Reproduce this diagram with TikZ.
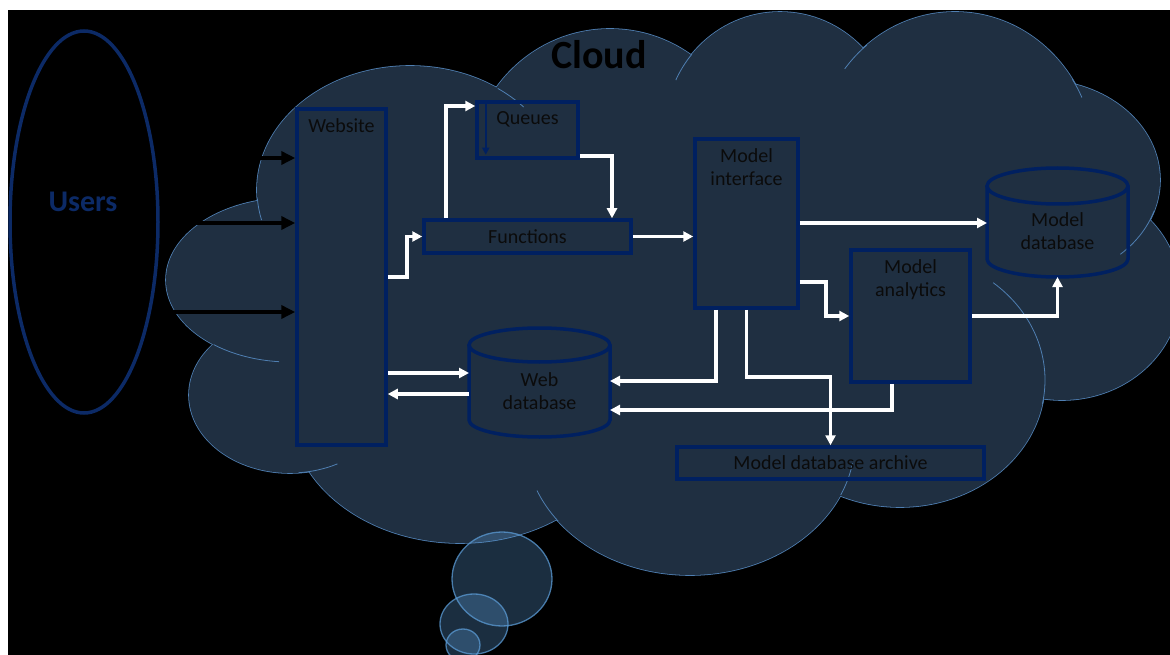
\documentclass[tikz,border=0pt]{standalone}
\usepackage{fontspec}
\setmainfont{Carlito}
\usetikzlibrary{arrows.meta,calc,shapes.geometric}

\definecolor{cloudfill}{HTML}{1F2F41}
\definecolor{cloudedge}{HTML}{4F7FB2}
\definecolor{bubble}{HTML}{5B9BD5}
\definecolor{navy}{HTML}{002060}
\definecolor{userblue}{HTML}{0C2A66}
\definecolor{ink}{HTML}{0B0B0B}

\tikzset{
  txt/.style={font=\fontsize{20}{23}\selectfont, text=ink, align=center},
  blockbox/.style={draw=navy, line width=3.5pt, inner sep=0pt, txt},
  toplbl/.style={txt, anchor=north, inner sep=0pt, yshift=-11pt},
  dbbody/.style={inner sep=0pt, outer sep=0pt, txt},
  dbline/.style={draw=navy, line width=3.5pt},
  flow/.style={draw=white, line width=3.5pt, -{Triangle[length=10pt,width=10pt]}},
  feed/.style={draw=black, line width=4pt, -{Triangle[length=14pt,width=13pt]}},
  lobeedge/.style={draw=cloudedge, line width=1.6pt},
  stub/.style={draw=cloudedge, line width=0.8pt},
  puff/.style={fill=bubble, fill opacity=0.3, draw=bubble, draw opacity=0.75, line width=1.3pt},
}

\begin{document}
\begin{tikzpicture}[x=1pt, y=-1pt]
\useasboundingbox (0,0) rectangle (1170,655);
\fill[white] (0,0) rectangle (1170,655);
\fill[black] (8,10) rectangle (1170,655);

% users
\node[draw=userblue, line width=3.5pt, ellipse, minimum width=148pt, minimum height=382pt, inner sep=0pt] (users) at (84,222) {};
\node[font=\bfseries\fontsize{30}{34}\selectfont, text=userblue] (usertitle) at (83,202) {Users};

% cloud: lobes stroked first, then filled so only the outer rim stays
\def\lobes{410/190/153/124, 610/170/140/141, 780/130/115/118, 955/160/140/148, 1040/180/120/100, 1062/292/118/108, 900/380/145/127, 690/440/165/135, 460/410/170/133, 290/395/101/78, 290/280/124/82}
\foreach \cx/\cy/\rx/\ry in \lobes {\draw[lobeedge] (\cx,\cy) ellipse [x radius=\rx, y radius=\ry];}
\foreach \cx/\cy/\rx/\ry in \lobes {\fill[cloudfill] (\cx,\cy) ellipse [x radius=\rx, y radius=\ry];}
\fill[cloudfill] (410,190) -- (610,170) -- (780,130) -- (955,160) -- (1040,180) -- (1062,292) -- (900,380) -- (690,440) -- (460,410) -- (290,395) -- (290,280) -- cycle;
% short inner arcs where lobes meet
\foreach \cx/\cy/\rx/\ry/\ta/\tb in {410/190/153/124/-55/-42, 780/130/115/118/205/220, 955/160/140/148/218/231, 955/160/140/148/-33/-25, 1040/180/120/100/18/48, 900/380/145/127/-50/11, 690/440/165/135/10/24, 690/440/165/135/143/158, 290/395/101/78/62/85, 290/280/124/82/95/128, 410/190/153/124/166/176}
  {\draw[stub] ({\cx+\rx*cos(\ta)},{\cy+\ry*sin(\ta)}) arc[start angle=\ta, end angle=\tb, x radius=\rx, y radius=\ry];}

% thought bubbles
\path[puff] (502,579) ellipse [x radius=50, y radius=47];
\path[puff] (474,624) ellipse [x radius=34, y radius=30];
\path[puff] (463,645) ellipse [x radius=17, y radius=16];

\node[font=\bfseries\fontsize{40}{44}\selectfont, text=black] (cloudtitle) at (599,55) {Cloud};

% blocks
\node[blockbox, minimum width=89pt, minimum height=336pt, label={[toplbl]north:Website}] (web) at (341.5,277) {};
\node[blockbox, minimum width=101pt, minimum height=56pt, label={[toplbl]north:Queues}] (queues) at (527.5,130) {};
\node[blockbox, minimum width=207pt, minimum height=33pt] (fun) at (527.5,236.5) {Functions};
\node[blockbox, minimum width=103pt, minimum height=169pt, label={[toplbl]north:Model\\interface}] (mi) at (746.5,223.5) {};
\node[blockbox, minimum width=119pt, minimum height=132pt, label={[toplbl]north:Model\\analytics}] (ma) at (910.5,316) {};
\node[blockbox, minimum width=307pt, minimum height=32pt] (arch) at (830.5,463) {Model database archive};

% databases
\node[dbbody, minimum width=141pt, minimum height=92pt] (wdb) at (539.5,391) {Web\\database};
\node[dbbody, minimum width=141pt, minimum height=91pt] (mdb) at (1057.5,231.5) {Model\\database};
\draw[dbline] (wdb.north west) -- ($(wdb.south west)+(0,-17)$) arc[start angle=180, end angle=0, x radius=70.5, y radius=17] -- (wdb.north east);
\draw[dbline] (wdb.north) ellipse [x radius=70.5, y radius=17];
\draw[dbline] (mdb.north west) -- ($(mdb.south west)+(0,-18)$) arc[start angle=180, end angle=0, x radius=70.5, y radius=18] -- (mdb.north east);
\draw[dbline] (mdb.north) ellipse [x radius=70.5, y radius=18];

% users to website
\draw[feed] (users.east |- 0,158) -- (web.west |- 0,158);
\draw[feed] (users.east |- 0,223) -- (web.west |- 0,223);
\draw[feed] (users.east |- 0,312) -- (web.west |- 0,312);

% queue feedback marker
\draw[navy, line width=2pt, -{Triangle[length=7pt,width=7pt]}] ([xshift=10.5pt,yshift=-3pt]queues.north west) -- ([xshift=10.5pt,yshift=5pt]queues.south west);

% data flow
\draw[flow] (web.east |- 0,277) -- ++(19,0) |- (fun.west);
\draw[flow] (fun.north -| 446,0) |- (queues.west |- 0,106);
\draw[flow] (queues.east |- 0,156) -| (fun.north -| 612,0);
\draw[flow] (fun.east) -- (mi.west |- fun.east);
\draw[flow] (mi.east |- 0,223) -- (mdb.west |- 0,223);
\draw[flow] (mi.east |- 0,282) -- ++(26,0) |- (ma.west);
\draw[flow] (ma.east) -| (mdb.south);
\draw[flow] (web.east |- 0,373) -- (wdb.west |- 0,373);
\draw[flow] (wdb.west |- 0,394) -- (web.east |- 0,394);
\draw[flow] (mi.south -| 716,0) |- (wdb.east |- 0,381);
\draw[flow] (mi.south) |- (arch.north |- 0,377) -- (arch.north);
\draw[flow] (ma.south -| 892,0) |- (wdb.east |- 0,410);
\end{tikzpicture}
\end{document}
